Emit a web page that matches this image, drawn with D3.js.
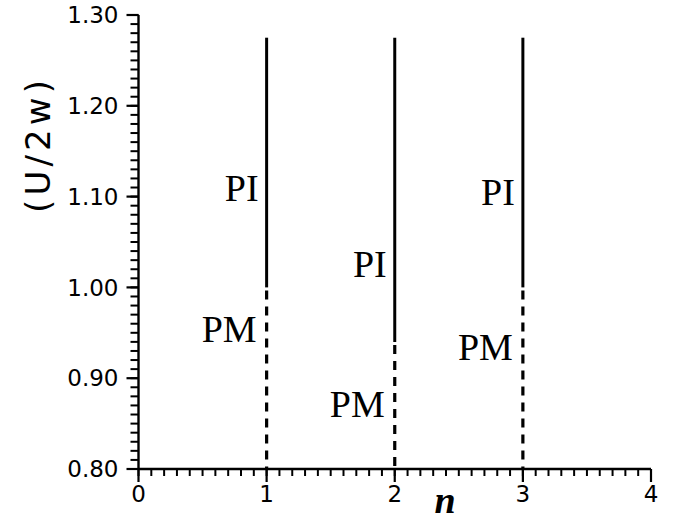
<!DOCTYPE html>
<html>
<head>
<meta charset="utf-8">
<script src="https://cdn.jsdelivr.net/npm/d3@7"></script>
<style>
  html, body { margin: 0; padding: 0; background: #fff; }
  svg { display: block; }
</style>
</head>
<body>
<svg id="chart" width="673" height="520"></svg>
<script>
// Phase boundaries: each filling n has a PI (solid) branch above the
// transition value of U/2w and a PM (dashed) branch below it.
const fillings     = [1, 2, 3];
const branchTop    = [1.275, 1.275, 1.275];
const transitionU  = [1.00, 0.94, 1.00];
const branchBottom = [0.80, 0.80, 0.80];

// Phase labels and the U/2w level their baselines sit at
const piLabelU = [1.095, 1.012, 1.091];
const pmLabelU = [0.940, 0.857, 0.920];
const piText = "PI";
const pmText = "PM";

// Axis ticks
const xTicks = [0, 1, 2, 3, 4];
const yTicks = [0.80, 0.90, 1.00, 1.10, 1.20, 1.30];
const xTickLabels = ["0", "1", "2", "3", "4"];
const yTickLabels = ["0.80", "0.90", "1.00", "1.10", "1.20", "1.30"];
const xMinorStep = 0.1;
const yMinorStep = 0.01;
const xTitle = "n";
const yTitle = "(U/2w)";

const svg = d3.select("#chart");
const x = d3.scaleLinear().domain([0, 4]).range([138.5, 651]);
const y = d3.scaleLinear().domain([0.80, 1.30]).range([469, 15]);
const ink = "#000";

const x0 = x(0), y0 = y(0.80);

// minor tick positions
const xMinor = d3.range(0, Math.round(4 / xMinorStep) + 1).map(i => +(i * xMinorStep).toFixed(2));
const yMinor = d3.range(0, Math.round(0.5 / yMinorStep) + 1).map(i => +(0.80 + i * yMinorStep).toFixed(2));

const axes = svg.append("g").attr("stroke", ink).attr("fill", "none");

// minor ticks (outward)
axes.selectAll("line.xminor").data(xMinor).join("line")
  .attr("class", "xminor")
  .attr("x1", d => x(d)).attr("x2", d => x(d))
  .attr("y1", y0).attr("y2", y0 + 7)
  .attr("stroke-width", 2);
axes.selectAll("line.yminor").data(yMinor).join("line")
  .attr("class", "yminor")
  .attr("y1", d => y(d)).attr("y2", d => y(d))
  .attr("x1", x0).attr("x2", x0 - 8)
  .attr("stroke-width", 2);

// major ticks
axes.selectAll("line.xmajor").data(xTicks).join("line")
  .attr("class", "xmajor")
  .attr("x1", d => x(d)).attr("x2", d => x(d))
  .attr("y1", y0).attr("y2", y0 + 13)
  .attr("stroke-width", 2.2);
axes.selectAll("line.ymajor").data(yTicks).join("line")
  .attr("class", "ymajor")
  .attr("y1", d => y(d)).attr("y2", d => y(d))
  .attr("x1", x0).attr("x2", x0 - 12)
  .attr("stroke-width", 2.2);

// axis lines
axes.append("line").attr("x1", x0).attr("x2", x(4)).attr("y1", y0).attr("y2", y0).attr("stroke-width", 2.4);
axes.append("line").attr("x1", x0).attr("x2", x0).attr("y1", y0).attr("y2", y(1.30)).attr("stroke-width", 2.4);

// tick labels
const tickFont = "DejaVu Sans, sans-serif";
svg.append("g").selectAll("text").data(xTicks).join("text")
  .attr("x", d => x(d)).attr("y", y0 + 33)
  .attr("text-anchor", "middle")
  .attr("font-family", tickFont).attr("font-size", 23).attr("fill", ink)
  .text((d, i) => xTickLabels[i]);
svg.append("g").selectAll("text").data(yTicks).join("text")
  .attr("x", x0 - 20).attr("y", d => y(d))
  .attr("dy", "0.36em")
  .attr("text-anchor", "end")
  .attr("font-family", tickFont).attr("font-size", 23).attr("fill", ink)
  .text((d, i) => yTickLabels[i]);

// phase boundary lines
const lines = svg.append("g").attr("stroke", ink).attr("stroke-width", 3);
fillings.forEach((n, i) => {
  lines.append("line")
    .attr("x1", x(n)).attr("x2", x(n))
    .attr("y1", y(branchTop[i])).attr("y2", y(transitionU[i]));
  lines.append("line")
    .attr("x1", x(n)).attr("x2", x(n))
    .attr("y1", y(transitionU[i]) + 3).attr("y2", y(branchBottom[i]))
    .attr("stroke-width", 3.2)
    .attr("stroke-dasharray", "9,7");
});

// phase labels
const labels = svg.append("g")
  .attr("font-family", "Liberation Serif, Times New Roman, serif")
  .attr("font-size", 38).attr("fill", ink).attr("text-anchor", "end");
fillings.forEach((n, i) => {
  labels.append("text").attr("x", x(n) - 8).attr("y", y(piLabelU[i])).text(piText);
  labels.append("text").attr("x", x(n) - 10).attr("y", y(pmLabelU[i])).text(pmText);
});

// axis titles
svg.append("text")
  .attr("x", 445).attr("y", 513)
  .attr("text-anchor", "middle")
  .attr("font-family", "Liberation Serif, Times New Roman, serif")
  .attr("font-style", "italic").attr("font-weight", "bold")
  .attr("font-size", 38).attr("fill", ink)
  .text(xTitle);

svg.append("text")
  .attr("transform", "translate(50,147) rotate(-90)")
  .attr("x", -66)
  .attr("textLength", 133)
  .attr("lengthAdjust", "spacing")
  .attr("font-family", "DejaVu Sans, sans-serif")
  .attr("font-size", 34)
  .attr("fill", ink)
  .text(yTitle);
</script>
</body>
</html>
